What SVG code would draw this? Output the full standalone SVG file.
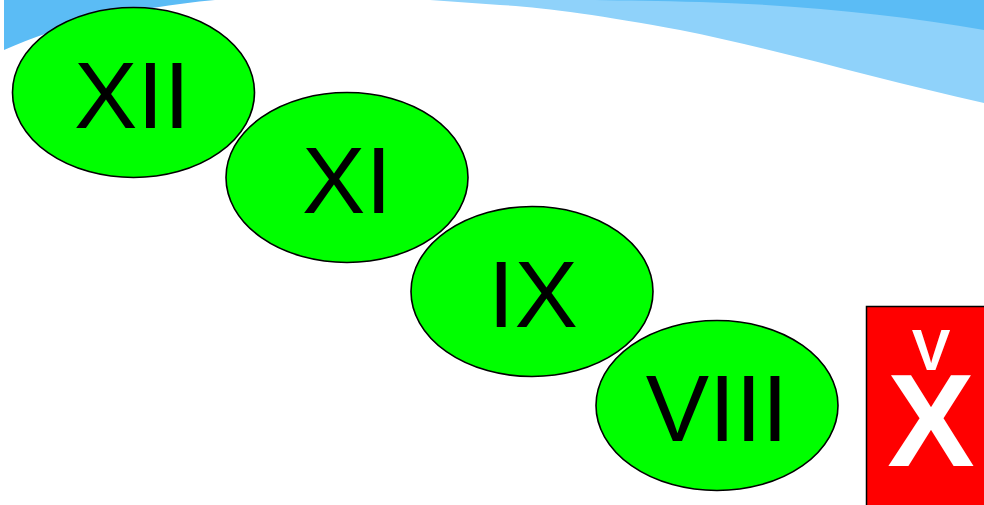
<svg xmlns="http://www.w3.org/2000/svg" width="984" height="505" viewBox="0 0 984 505">
  <style>
    .oval { fill: #00ff00; stroke: #000; stroke-width: 1.6; }
    .num { font-family: "Liberation Sans", Arial, sans-serif; font-size: 95px; fill: #000; text-anchor: middle; }
    .badge { font-family: "Liberation Sans", Arial, sans-serif; font-weight: bold; fill: #fff; text-anchor: middle; }
  </style>
  <rect width="984" height="505" fill="#fff"/>
  <!-- header waves -->
  <g id="waves">
    <path d="M4,0 L215,0 C130,8 60,25 4,50 Z" fill="#5bbcf5"/>
    <path d="M430,0 L984,0 L984,103 C880,80 780,50 680,30 C600,15 540,7 500,5 Z" fill="#8fd2fa"/>
    <path d="M515,0 L984,0 L984,30 C900,15 800,5 700,2 C620,0 560,0 515,0 Z" fill="#5bbcf5"/>
  </g>
  <g id="n-xii">
    <ellipse class="oval" cx="133.5" cy="92.5" rx="121" ry="85"/>
    <text class="num" x="132" y="128">XII</text>
  </g>
  <g id="n-xi">
    <ellipse class="oval" cx="347" cy="177.5" rx="121" ry="85"/>
    <text class="num" x="347" y="213">XI</text>
  </g>
  <g id="n-ix">
    <ellipse class="oval" cx="532" cy="291.5" rx="121" ry="85"/>
    <text class="num" x="533" y="327">IX</text>
  </g>
  <g id="n-viii">
    <ellipse class="oval" cx="717" cy="405.5" rx="121" ry="85"/>
    <text class="num" x="717" y="441">VIII</text>
  </g>
  <g id="n-vx">
    <rect x="866.5" y="306.5" width="120" height="200" fill="#ff0000" stroke="#000" stroke-width="1.5"/>
    <text class="badge" x="931" y="370" font-size="58">V</text>
    <text class="badge" x="931" y="466" font-size="131">X</text>
  </g>
  <g id="connectors"></g>
</svg>
